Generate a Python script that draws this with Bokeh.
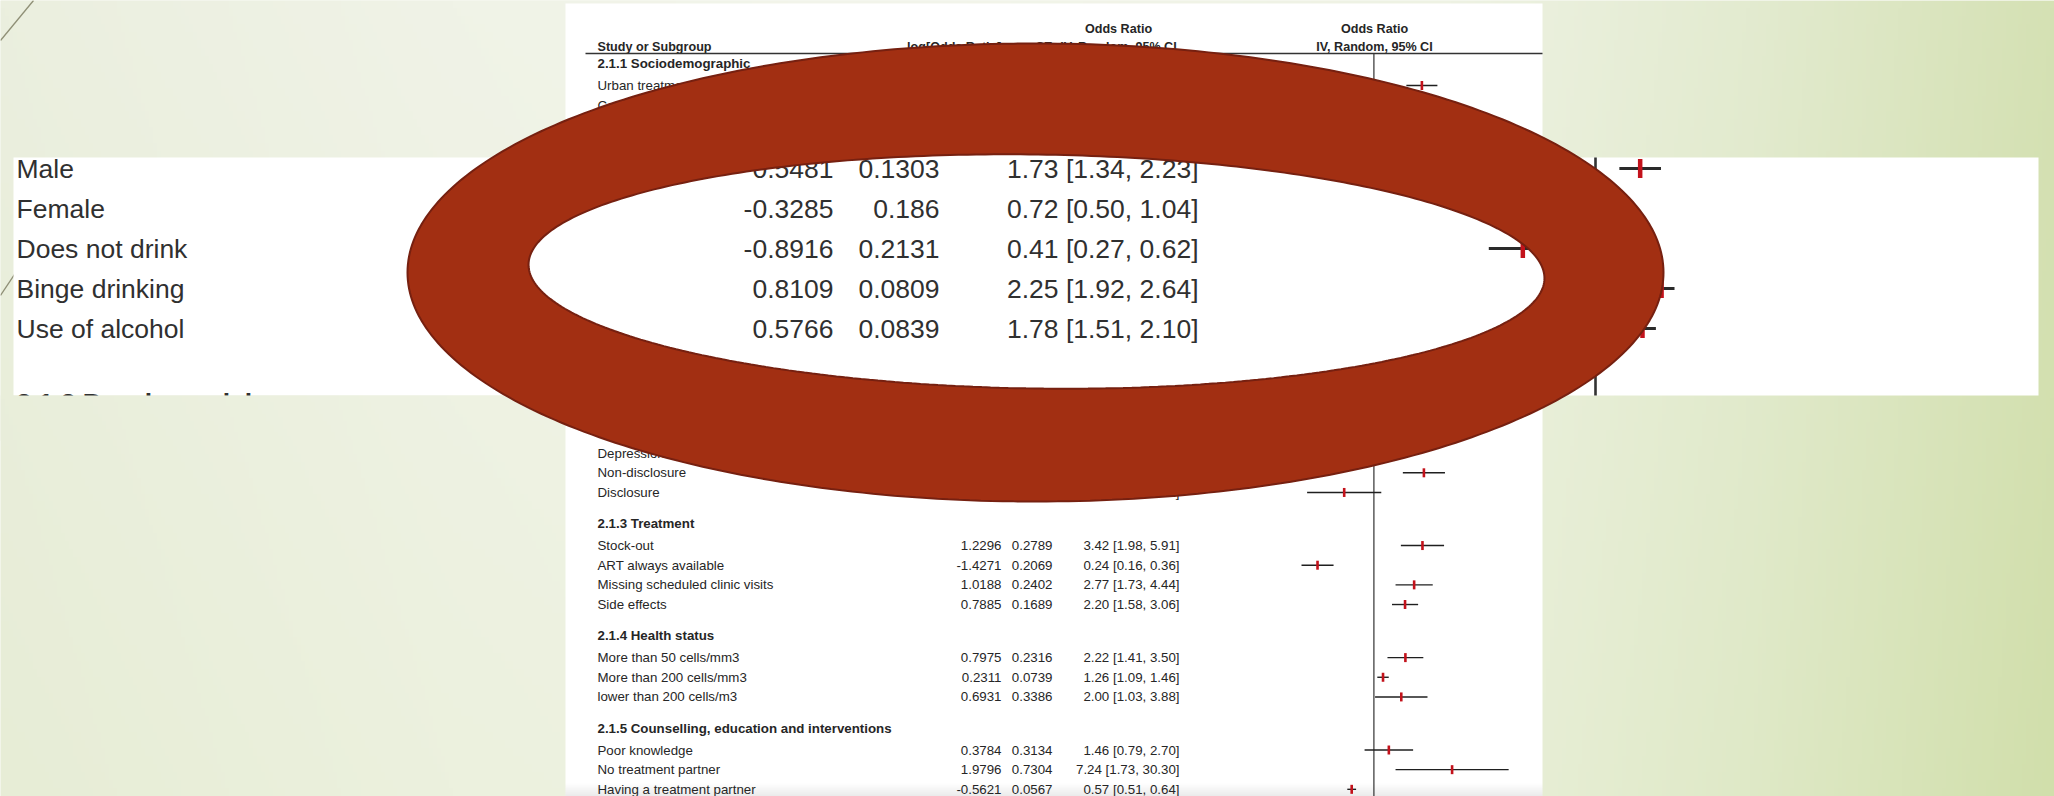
import numpy as np
from bokeh.plotting import figure
from bokeh.models import Range1d
from bokeh.core.properties import value
from bokeh.embed import file_html
from bokeh.resources import INLINE

nan = float("nan")

# ---------------- data ----------------
section_titles = ["2.1.1 Sociodemographic", "2.1.2 Psychosocial", "2.1.3 Treatment",
                  "2.1.4 Health status", "2.1.5 Counselling, education and interventions"]

# "" = row whose text is hidden under the red call-out (not readable)
s1_names = ["Urban treatment centre", "Cost of treatment", "", "", "",
            "Male", "Female", "Does not drink", "Binge drinking", "Use of alcohol"]
s1_logor = [1.2150, nan, nan, nan, nan, 0.5481, -0.3285, -0.8916, 0.8109, 0.5766]
s1_se = [0.2003, nan, nan, nan, nan, 0.1303, 0.186, 0.2131, 0.0809, 0.0839]

s2_names = ["", "", "", "", "", "", "", "Depression", "Non-disclosure", "Disclosure"]
s2_logor = [nan, nan, nan, nan, nan, nan, nan, nan, 1.2660, -0.7520]
s2_se = [nan, nan, nan, nan, nan, nan, nan, nan, 0.2720, 0.4790]

s3_names = ["Stock-out", "ART always available", "Missing scheduled clinic visits", "Side effects"]
s3_logor = [1.2296, -1.4271, 1.0188, 0.7885]
s3_se = [0.2789, 0.2069, 0.2402, 0.1689]

s4_names = ["More than 50 cells/mm3", "More than 200 cells/mm3", "lower than 200 cells/m3"]
s4_logor = [0.7975, 0.2311, 0.6931]
s4_se = [0.2316, 0.0739, 0.3386]

s5_names = ["Poor knowledge", "No treatment partner", "Having a treatment partner"]
s5_logor = [0.3784, 1.9796, -0.5621]
s5_se = [0.3134, 0.7304, 0.0567]

inset_rows = ["Male", "Female", "Does not drink", "Binge drinking", "Use of alcohol"]
inset_next_title = "2.1.2 Psychosocial"

header_study = "Study or Subgroup"
header_logor = "log[Odds Ratio]"
header_se = "SE"
header_or = ["Odds Ratio", "IV, Random, 95% CI"]

# ---------------- table layout in row slots ----------------
SECTION_GAP, HEAD_OFFSET = 2.7, 1.1
sections = list(zip(section_titles,
                    [s1_names, s2_names, s3_names, s4_names, s5_names],
                    [s1_logor, s2_logor, s3_logor, s4_logor, s5_logor],
                    [s1_se, s2_se, s3_se, s4_se, s5_se]))
row_slot, row_name, row_lor, row_se = [], [], [], []
head_slot = []
last = None
for title, names, lors, ses in sections:
    first = 0.0 if last is None else last + SECTION_GAP
    head_slot.append(first - HEAD_OFFSET)
    for j, (n, l, s) in enumerate(zip(names, lors, ses)):
        row_slot.append(first + j)
        row_name.append(n)
        row_lor.append(l)
        row_se.append(s)
    last = first + len(names) - 1

row_slot = np.array(row_slot)
row_lor = np.array(row_lor, dtype=float)
row_se = np.array(row_se, dtype=float)
ok = np.isfinite(row_lor) & np.isfinite(row_se)
ci_lo = row_lor - 1.96 * row_se
ci_hi = row_lor + 1.96 * row_se

def ci_text(l, s):
    return f"{np.exp(l):.2f} [{np.exp(l - 1.96 * s):.2f}, {np.exp(l + 1.96 * s):.2f}]"

# ---------------- figure: one pixel per picture pixel ----------------
W, H = 2054, 796
def Y(v):
    return H - v

p = figure(width=W, height=H, output_backend="svg", toolbar_location=None,
           x_range=Range1d(0, W), y_range=Range1d(0, H),
           x_axis_location=None, y_axis_location=None, min_border=0)
p.outline_line_color = None
p.xgrid.visible = False
p.ygrid.visible = False
p.background_fill_color = "#eef1e2"
p.border_fill_color = "#eef1e2"

# main forest panel scales (log odds ratio -> pixel, row slot -> pixel)
OR1_X, MAIN_PX = 1373.4, 39.5
MAIN_TOP, MAIN_STEP = 85.0, 19.66
s_first = row_slot[0]
# inset scales
IN_OR1_X, IN_PX = 1595.0, 81.5
s_male = row_slot[row_name.index("Male")]
IN_Y0, IN_STEP = 168.0, 40.0

p.extra_x_ranges = {
    "mx": Range1d((0 - OR1_X) / MAIN_PX, (W - OR1_X) / MAIN_PX),
    "ix": Range1d((0 - IN_OR1_X) / IN_PX, (W - IN_OR1_X) / IN_PX),
}
p.extra_y_ranges = {
    "my": Range1d(s_first + (H - MAIN_TOP) / MAIN_STEP, s_first + (0 - MAIN_TOP) / MAIN_STEP),
    "iy": Range1d(s_male + (H - IN_Y0) / IN_STEP, s_male + (0 - IN_Y0) / IN_STEP),
}

# ---------------- background gradient ----------------
def bg_image(x0, x1, y0, y1, nx, ny):
    xs = np.linspace(x0, x1, nx)
    ys = np.linspace(y1, y0, ny)  # row 0 = bottom
    stx = [0, 450, 900, 1450, 1750, 2054]
    r = np.interp(xs, stx, [235, 240, 243, 238, 227, 213])
    g = np.interp(xs, stx, [239, 243, 245, 242, 235, 225])
    b = np.interp(xs, stx, [223, 231, 235, 227, 208, 180])
    t = (ys / 796.0)[:, None]
    R = np.clip(r[None, :] - 4 * t, 0, 255)
    G = np.clip(g[None, :] - 2 * t, 0, 255)
    B = np.clip(b[None, :] - 9 * t, 0, 255)
    img = np.empty((ny, nx), dtype=np.uint32)
    v = img.view(dtype=np.uint8).reshape((ny, nx, 4))
    v[:, :, 0] = R.astype(np.uint8)
    v[:, :, 1] = G.astype(np.uint8)
    v[:, :, 2] = B.astype(np.uint8)
    v[:, :, 3] = 255
    return img

p.image_rgba(image=[bg_image(0, W, 0, H, 514, 100)], x=0, y=0, dw=W, dh=H)

# slide decoration lines
deco = "#8f8f76"
p.line(x=[0, 33], y=[Y(40), Y(0)], line_color=deco, line_width=1.3)
p.line(x=[0, 70], y=[Y(295), Y(190)], line_color=deco, line_width=1.3)

# ---------------- main forest plot panel ----------------
FONT = value("Liberation Sans")
TXT = "#262626"
RED = "#c3121b"
p.quad(left=565, right=1542, bottom=Y(796), top=Y(3), fill_color="white", line_color=None)
# faint grey shading at the bottom of the screenshot
sh = np.zeros((14, 1), dtype=np.uint32)
shv = sh.view(dtype=np.uint8).reshape((14, 1, 4))
shv[:, :, 0:3] = 120
shv[:, 0, 3] = np.linspace(40, 0, 14).astype(np.uint8)
p.image_rgba(image=[sh], x=565, y=0, dw=977, dh=14)

hfs = value("12.6px")
p.text(x=[1118, 1374], y=[Y(28), Y(28)], text=[header_or[0], header_or[0]], text_font=FONT,
       text_font_size=hfs, text_font_style="bold", text_align="center", text_baseline="middle",
       text_color=TXT)
p.text(x=[1118, 1374], y=[Y(46), Y(46)], text=[header_or[1], header_or[1]], text_font=FONT,
       text_font_size=hfs, text_font_style="bold", text_align="center", text_baseline="middle",
       text_color=TXT)
p.text(x=[597], y=[Y(46)], text=[header_study], text_font=FONT, text_font_size=hfs,
       text_font_style="bold", text_align="left", text_baseline="middle", text_color=TXT)
p.text(x=[1001, 1052], y=[Y(46), Y(46)], text=[header_logor, header_se], text_font=FONT,
       text_font_size=hfs, text_font_style="bold", text_align="right", text_baseline="middle",
       text_color=TXT)
p.segment(x0=[585], x1=[1542], y0=[Y(53)], y1=[Y(53)], line_color="#333333", line_width=1.4)
# line of no effect
p.segment(x0=[0], x1=[0], y0=[Y(53)], y1=[Y(796)], line_color="#333333", line_width=1.2,
          x_range_name="mx")

fs = value("13.3px")
p.text(x=[597] * len(section_titles), y=head_slot, text=section_titles, text_font=FONT,
       text_font_size=fs, text_font_style="bold", text_align="left", text_baseline="middle",
       text_color=TXT, y_range_name="my")
named = [i for i, n in enumerate(row_name) if n]
p.text(x=[597] * len(named), y=row_slot[named], text=[row_name[i] for i in named], text_font=FONT,
       text_font_size=fs, text_align="left", text_baseline="middle", text_color=TXT,
       y_range_name="my")
idx = np.where(ok)[0]
p.text(x=[1001] * len(idx), y=row_slot[idx], text=[f"{row_lor[i]:.4f}" for i in idx],
       text_font=FONT, text_font_size=fs, text_align="right", text_baseline="middle",
       text_color=TXT, y_range_name="my")
p.text(x=[1052] * len(idx), y=row_slot[idx], text=[str(float(row_se[i])) for i in idx],
       text_font=FONT, text_font_size=fs, text_align="right", text_baseline="middle",
       text_color=TXT, y_range_name="my")
p.text(x=[1179] * len(idx), y=row_slot[idx], text=[ci_text(row_lor[i], row_se[i]) for i in idx],
       text_font=FONT, text_font_size=fs, text_align="right", text_baseline="middle",
       text_color=TXT, y_range_name="my")
p.segment(x0=ci_lo[idx], x1=ci_hi[idx], y0=row_slot[idx], y1=row_slot[idx],
          line_color="#1f1f1f", line_width=1.4, x_range_name="mx", y_range_name="my")
p.rect(x=row_lor[idx], y=row_slot[idx], width=2.6, height=9, width_units="screen",
       height_units="screen", fill_color=RED, line_color=None, x_range_name="mx",
       y_range_name="my")

# ---------------- magnified inset band ----------------
p.quad(left=13, right=2038, bottom=Y(395), top=Y(157), fill_color="white", line_color=None)
iidx = [row_name.index(n) for n in inset_rows]
ifs = value("26.5px")
ITXT = "#303030"
p.text(x=[16] * len(iidx), y=row_slot[iidx], text=inset_rows, text_font=FONT, text_font_size=ifs,
       text_align="left", text_baseline="middle", text_color=ITXT, y_range_name="iy")
p.text(x=[833] * len(iidx), y=row_slot[iidx], text=[f"{row_lor[i]:.4f}" for i in iidx],
       text_font=FONT, text_font_size=ifs, text_align="right", text_baseline="middle",
       text_color=ITXT, y_range_name="iy")
p.text(x=[939] * len(iidx), y=row_slot[iidx], text=[str(float(row_se[i])) for i in iidx],
       text_font=FONT, text_font_size=ifs, text_align="right", text_baseline="middle",
       text_color=ITXT, y_range_name="iy")
p.text(x=[1198] * len(iidx), y=row_slot[iidx], text=[ci_text(row_lor[i], row_se[i]) for i in iidx],
       text_font=FONT, text_font_size=ifs, text_align="right", text_baseline="middle",
       text_color=ITXT, y_range_name="iy")
p.text(x=[16], y=[head_slot[1] + 0.25], text=[inset_next_title], text_font=FONT,
       text_font_size=ifs, text_font_style="bold", text_align="left", text_baseline="middle",
       text_color=ITXT, y_range_name="iy")
p.segment(x0=[0], x1=[0], y0=[Y(157)], y1=[Y(395)], line_color="#333333", line_width=2.6,
          x_range_name="ix")
p.segment(x0=ci_lo[iidx], x1=ci_hi[iidx], y0=row_slot[iidx], y1=row_slot[iidx],
          line_color="#2a2a2a", line_width=3, x_range_name="ix", y_range_name="iy")
p.rect(x=row_lor[iidx], y=row_slot[iidx], width=4.5, height=19, width_units="screen",
       height_units="screen", fill_color=RED, line_color=None, x_range_name="ix",
       y_range_name="iy")

# background again just below the band (the inset crops the next heading)
p.image_rgba(image=[bg_image(0, 563, 395, 440, 140, 12)], x=0, y=Y(440), dw=563, dh=45)

# ---------------- red call-out ring ----------------
t = np.linspace(0, 2 * np.pi, 361)
def ell(cx, cy, a, b, rot_deg):
    r = np.deg2rad(rot_deg)
    x = cx + a * np.cos(t) * np.cos(r) - b * np.sin(t) * np.sin(r)
    y = cy + a * np.cos(t) * np.sin(r) + b * np.sin(t) * np.cos(r)
    return list(x), list(Y(y))
ox, oy = ell(1035, 272, 628, 229, 0.0)
ix_, iy_ = ell(1036, 271, 508, 117, 0.8)
p.multi_polygons(xs=[[[ox, ix_[::-1]]]], ys=[[[oy, iy_[::-1]]]], fill_color="#a22f12",
                 line_color="#762010", line_width=2)

open("out.html", "w").write(file_html(p, INLINE))
